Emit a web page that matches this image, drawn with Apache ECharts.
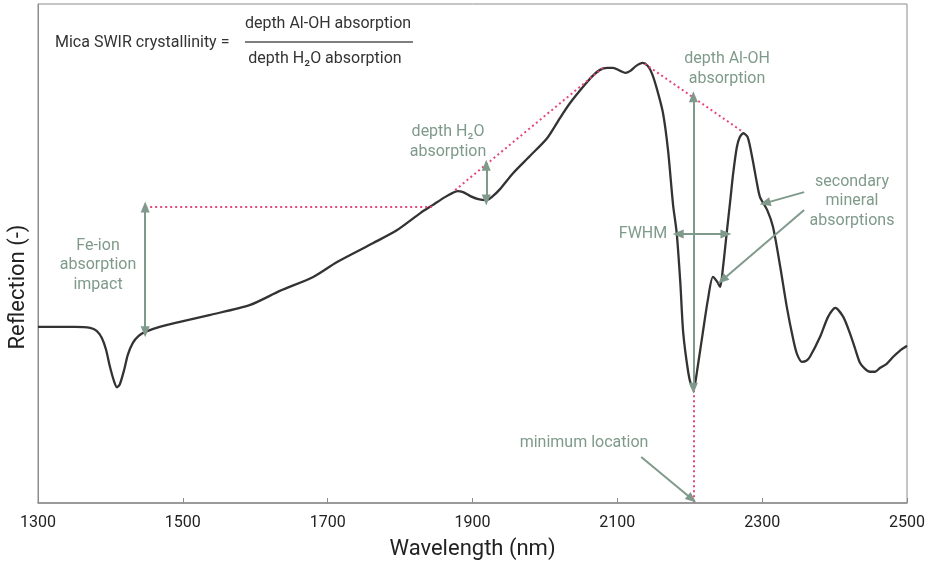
<!DOCTYPE html>
<html>
<head>
<meta charset="utf-8">
<script src="https://cdn.jsdelivr.net/npm/echarts@6/dist/echarts.min.js"></script>
<style>html,body{margin:0;padding:0;background:#fff}#c{width:930px;height:563px}</style>
</head>
<body>
<div id="c"></div>
<script>
// Wavelength (nm)
const wavelength = [1300,1324,1351,1372,1381,1388,1394,1399,1405,1409,1413,1419,1424,1431,1439,1448,1468,1496,1538,1593,1634,1680,1713,1763,1796,1828,1845,1862,1872,1879,1887,1897,1908,1919,1928,1938,1956,1979,2003,2021,2035,2055,2066,2076,2086,2094,2104,2111,2118,2126,2135,2142,2148,2155,2163,2170,2177,2182,2187,2191,2198,2202,2205,2207,2211,2218,2225,2232,2238,2242,2246,2251,2256,2260,2265,2269,2274,2280,2287,2292,2297,2307,2315,2325,2334,2343,2348,2355,2361,2366,2380,2391,2401,2412,2421,2428,2435,2442,2449,2456,2463,2472,2481,2490,2500];
// Reflection (relative units)
const reflection = [0.353,0.353,0.353,0.351,0.345,0.331,0.307,0.275,0.244,0.232,0.238,0.267,0.297,0.321,0.335,0.343,0.353,0.363,0.377,0.397,0.425,0.453,0.483,0.521,0.547,0.581,0.597,0.613,0.621,0.625,0.623,0.615,0.609,0.607,0.615,0.629,0.661,0.695,0.731,0.772,0.802,0.838,0.856,0.868,0.872,0.872,0.866,0.862,0.866,0.876,0.882,0.876,0.860,0.828,0.782,0.707,0.597,0.541,0.441,0.341,0.261,0.236,0.230,0.236,0.273,0.341,0.407,0.453,0.443,0.433,0.473,0.541,0.607,0.661,0.713,0.733,0.741,0.733,0.687,0.647,0.613,0.587,0.553,0.473,0.393,0.327,0.299,0.283,0.285,0.293,0.333,0.373,0.391,0.373,0.341,0.311,0.281,0.269,0.263,0.263,0.271,0.279,0.293,0.305,0.315];
// X-axis tick labels
const xTicks = [1300,1500,1700,1900,2100,2300,2500];
// Dotted guide lines (continuum / levels), data coordinates
const guideLines = [
  [[1448,0.593],[1844,0.593]],
  [[1876,0.627],[2080,0.872]],
  [[2138,0.880],[2272,0.745]],
  [[2205,0.226],[2205,0.0]]
];
// Double-headed measurement arrows
const doubleArrows = [
  [[1448,0.593],[1448,0.343]],
  [[1919,0.677],[1919,0.607]],
  [[2205,0.814],[2205,0.230]],
  [[2184,0.539],[2250,0.539]]
];
// Single-headed pointer arrows
const pointerArrows = [
  [[2358,0.623],[2304,0.601]],
  [[2358,0.587],[2245,0.447]],
  [[2133,0.092],[2203,0.008]]
];

const GREEN = '#7f9a8b';
const PINK = '#e8457a';
const chart = echarts.init(document.getElementById('c'), null, {renderer:'canvas'});

const ann = (text, x, y) => ({
  type:'text', silent:true, z:100,
  style:{text, x, y, align:'center', verticalAlign:'middle', fontFamily:'Roboto', fontSize:16, lineHeight:19.5, fill:GREEN}
});

const option = {
  animation:false,
  backgroundColor:'#fff',
  grid:{left:38, right:23, top:4, bottom:60, containLabel:false, outerBoundsMode:'none', show:true, borderColor:'#8c8c8c', borderWidth:1},
  xAxis:{
    type:'value', min:1300, max:2500,
    axisLine:{show:true, lineStyle:{color:'#8c8c8c', width:1.5}},
    axisTick:{show:true, inside:true, length:5, customValues:xTicks, lineStyle:{color:'#8c8c8c', width:1}},
    axisLabel:{customValues:xTicks, formatter:v => String(v), fontFamily:'Roboto', fontSize:16, color:'#222', margin:12},
    splitLine:{show:false},
    name:'Wavelength (nm)', nameLocation:'middle', nameGap:35,
    nameTextStyle:{fontFamily:'Roboto', fontSize:22, color:'#222'}
  },
  yAxis:{
    type:'value', min:0, max:1,
    axisLine:{show:true, lineStyle:{color:'#8c8c8c', width:1}},
    axisTick:{show:false}, axisLabel:{show:false}, splitLine:{show:false}
  },
  series:[
    {
      type:'line', name:'guides', data:[], z:2,
      markLine:{silent:true, symbol:['none','none'], label:{show:false}, animation:false,
        lineStyle:{color:PINK, width:2, type:[2,3]},
        data: guideLines.map(l => [{coord:l[0]},{coord:l[1]}])}
    },
    {
      type:'line', name:'spectrum', z:3,
      data: wavelength.map((w,i)=>[w, reflection[i]]),
      showSymbol:false, smooth:0.25,
      lineStyle:{color:'#333', width:2.3}
    },
    {
      type:'line', name:'arrows2', data:[], z:4,
      markLine:{silent:true, symbol:['triangle','triangle'], symbolSize:[9,11],
        label:{show:false}, animation:false,
        lineStyle:{color:GREEN, width:2, type:'solid'},
        data: doubleArrows.map(l => [{coord:l[0]},{coord:l[1]}])}
    },
    {
      type:'line', name:'arrows1', data:[], z:4,
      markLine:{silent:true, symbol:['none','triangle'], symbolSize:[9,11],
        label:{show:false}, animation:false,
        lineStyle:{color:GREEN, width:2, type:'solid'},
        data: pointerArrows.map(l => [{coord:l[0]},{coord:l[1]}])}
    }
  ],
  graphic:[
    {type:'text', silent:true, style:{text:'Reflection (-)', x:18, y:287, align:'center', verticalAlign:'middle', fontFamily:'Roboto', fontSize:22, fill:'#222'}, rotation:Math.PI/2, originX:18, originY:287},
    {type:'text', silent:true, style:{text:'Mica SWIR crystallinity =', x:55, y:43, align:'left', verticalAlign:'middle', fontFamily:'Roboto', fontSize:16, fill:'#333'}},
    {type:'text', silent:true, style:{text:'depth Al-OH absorption', x:328, y:24, align:'center', verticalAlign:'middle', fontFamily:'Roboto', fontSize:16, fill:'#333'}},
    {type:'line', silent:true, shape:{x1:245, y1:42, x2:413, y2:42}, style:{stroke:'#555', lineWidth:1.5}},
    {type:'text', silent:true, style:{text:'depth H\u2082O absorption', x:325, y:59, align:'center', verticalAlign:'middle', fontFamily:'Roboto', fontSize:16, fill:'#333'}},
    ann('Fe-ion\nabsorption\nimpact', 98, 265),
    ann('depth H\u2082O\nabsorption', 448, 142),
    ann('depth Al-OH\nabsorption', 727, 69),
    ann('secondary\nmineral\nabsorptions', 852, 201),
    ann('FWHM', 643, 234),
    ann('minimum location', 584, 443)
  ]
};
chart.setOption(option);
</script>
</body>
</html>
